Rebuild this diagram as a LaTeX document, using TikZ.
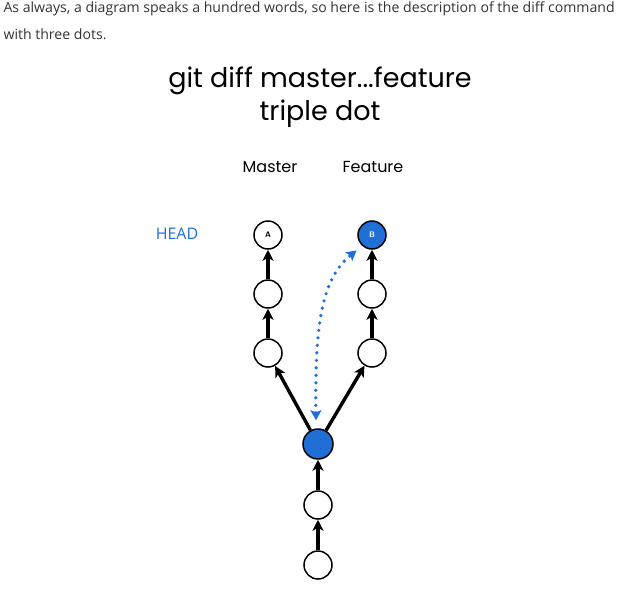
\documentclass[tikz,border=0pt]{standalone}
\usepackage{fontspec}
\setmainfont{Open Sans}
\newfontfamily\titlefont{Poppins}
\usepackage{xcolor}
\usetikzlibrary{arrows.meta,positioning,calc}

\definecolor{headblue}{HTML}{1F6FD6}
\definecolor{bodygray}{HTML}{333333}

\begin{document}
\begin{tikzpicture}[
    x=1pt, y=-1pt,
    commit/.style={circle, draw, line width=1.5pt, fill=white, minimum size=28pt, inner sep=0pt, font=\sffamily\bfseries\fontsize{8}{8}\selectfont},
    basecommit/.style={commit, fill=headblue, minimum size=30pt},
    parent/.style={-{Stealth[length=11pt,width=11pt,inset=3pt]}, line width=3.4pt},
    diffarrow/.style={{Stealth[length=10pt,width=11pt,inset=2pt]}-{Stealth[length=10pt,width=11pt,inset=2pt]}, headblue, line width=3.6pt, dash pattern=on 0pt off 7.5pt, line cap=round},
    branchlabel/.style={font=\titlefont\fontsize{16}{16}\selectfont}
]
    \useasboundingbox (0,0) rectangle (619,592);

    % ============ Intro text ============
    \node[anchor=west, text=bodygray, font=\fontsize{14.1}{16}\selectfont] (intro1) at (0,9) {As always, a diagram speaks a hundred words, so here is the description of the diff command};
    \node[anchor=west, text=bodygray, font=\fontsize{14.1}{16}\selectfont] (intro2) at (0,34) {with three dots.};

    % ============ Title ============
    \node[font=\titlefont\fontsize{27}{33}\selectfont, align=center] (title) at (320,97) {git diff master...feature\\triple dot};

    % ============ Branch labels ============
    \node[branchlabel] (master) at (270,167) {Master};
    \node[branchlabel] (feature) at (373,167) {Feature};
    \node[text=headblue, font=\fontsize{16}{16}\selectfont] (head) at (177,234) {HEAD};

    % ============ Commits ============
    \node[commit] (a) at (268,235) {A};
    \node[commit] (m2) at (268,294) {};
    \node[commit] (m1) at (268,353) {};
    \node[commit, fill=headblue, text=white] (b) at (372,235) {B};
    \node[commit] (f2) at (372,294) {};
    \node[commit] (f1) at (372,353) {};
    \node[basecommit] (base) at (318,444) {};
    \node[commit] (c2) at (318,505) {};
    \node[commit] (c1) at (318,565) {};

    % ============ Parent links ============
    \draw[parent] (m2) -- (a);
    \draw[parent] (m1) -- (m2);
    \draw[parent] (f2) -- (b);
    \draw[parent] (f1) -- (f2);
    \draw[parent] (base) -- (m1);
    \draw[parent] (base) -- (f1);
    \draw[parent] (c2) -- (base);
    \draw[parent] (c1) -- (c2);

    % ============ Diff range ============
    \draw[diffarrow] ($(base.north)+(-2,-8)$) .. controls (315,330) and (320,280) .. ($(b.south west)+(-5,5)$);

\end{tikzpicture}
\end{document}
